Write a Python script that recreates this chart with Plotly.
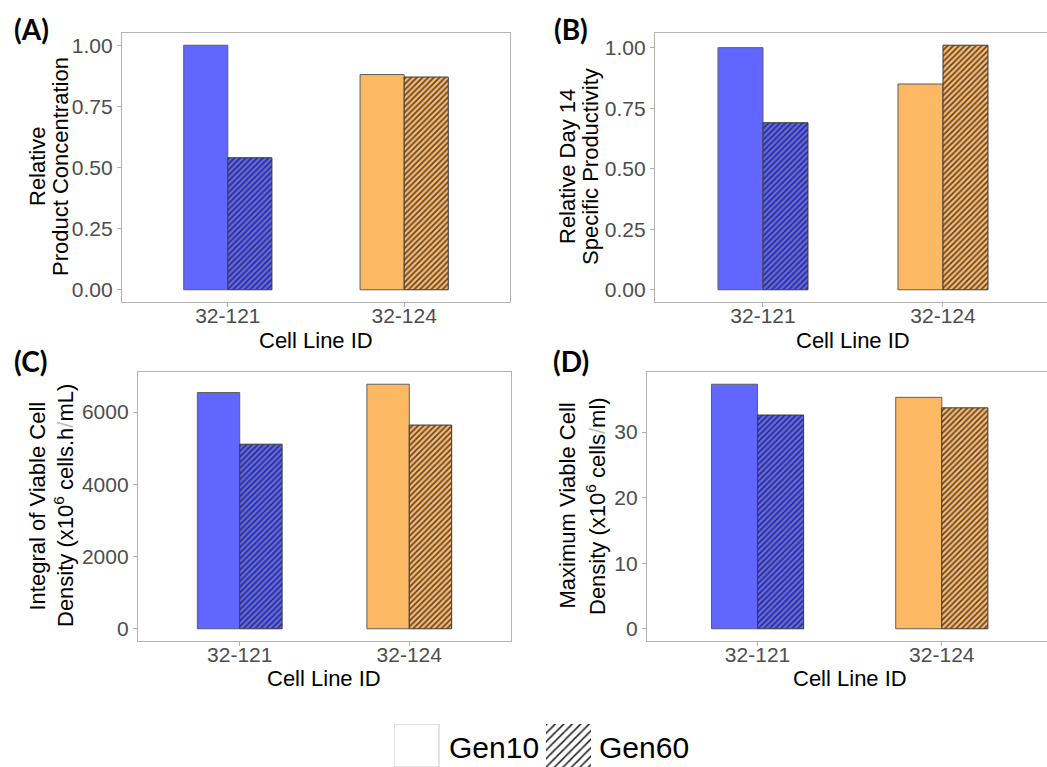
import plotly.graph_objects as go

# ---- data ----
cell_lines = ["32-121", "32-124"]
line_colors = ["#6066FF", "#FDB863"]

conc_gen10 = [1.00, 0.88]
conc_gen60 = [0.54, 0.87]

qp_gen10 = [1.00, 0.85]
qp_gen60 = [0.69, 1.01]

ivcd_gen10 = [6540, 6770]
ivcd_gen60 = [5110, 5640]

vcd_gen10 = [37.3, 35.3]
vcd_gen60 = [32.6, 33.7]

legend_labels = ["Gen10", "Gen60"]

W, H = 1047, 767
FONT = "Liberation Sans, Arial, sans-serif"
FRAME = "#B3B3B3"
HATCH = "#1A1A2A"


def fx(px):
    return px / W


def fy(py):
    return 1 - py / H


fig = go.Figure()

panels = [
    dict(g10=conc_gen10, g60=conc_gen60, xd=(122, 510), yd=(33, 302), xr=1.6,
         tv=[0, 0.25, 0.5, 0.75, 1.0], tf=".2f", mirror=True),
    dict(g10=qp_gen10, g60=qp_gen60, xd=(655, 1047), yd=(33, 302), xr=1.578,
         tv=[0, 0.25, 0.5, 0.75, 1.0], tf=".2f", mirror=False),
    dict(g10=ivcd_gen10, g60=ivcd_gen60, xd=(138, 511), yd=(372, 641), xr=1.6,
         tv=[0, 2000, 4000, 6000], tf="d", mirror=True),
    dict(g10=vcd_gen10, g60=vcd_gen60, xd=(647, 1047), yd=(372, 641), xr=1.571,
         tv=[0, 10, 20, 30], tf="d", mirror=False),
]

for i, p in enumerate(panels, start=1):
    xa = "x" if i == 1 else f"x{i}"
    ya = "y" if i == 1 else f"y{i}"
    fig.add_trace(go.Bar(
        x=cell_lines, y=p["g10"], xaxis=xa, yaxis=ya, name="Gen10",
        marker=dict(color=line_colors, line=dict(color="#5F5F5F", width=1)),
        showlegend=False, hoverinfo="x+y",
    ))
    # hatched bars: fill colour comes from the pattern background per bar
    fig.add_trace(go.Bar(
        x=cell_lines, y=p["g60"], xaxis=xa, yaxis=ya, name="Gen60",
        marker=dict(
            color="#808080",
            line=dict(color="#3A3A3A", width=1),
            pattern=dict(shape="/", fillmode="replace", bgcolor=line_colors,
                         fgcolor=HATCH, fgopacity=0.75, size=4, solidity=0.4),
        ),
        showlegend=False, hoverinfo="x+y",
    ))
    ymax = max(p["g10"] + p["g60"])
    xkey = "xaxis" if i == 1 else f"xaxis{i}"
    ykey = "yaxis" if i == 1 else f"yaxis{i}"
    fig.layout[xkey] = dict(
        domain=[fx(p["xd"][0]), fx(p["xd"][1])], anchor=ya,
        range=[-0.6, p["xr"]], type="category",
        showline=True, mirror=True, linecolor=FRAME, linewidth=1.3,
        ticks="outside", ticklen=4, tickcolor=FRAME, tickwidth=1,
        ticklabelstandoff=-9,
        tickfont=dict(family=FONT, size=21, color="#4D4D4D"),
        showgrid=False, zeroline=False, fixedrange=True,
    )
    fig.layout[ykey] = dict(
        domain=[fy(p["yd"][1]), fy(p["yd"][0])], anchor=xa,
        range=[-0.05 * ymax, 1.05 * ymax],
        tickvals=p["tv"], tickformat=p["tf"],
        showline=True, mirror=p["mirror"], linecolor=FRAME, linewidth=1.3,
        ticks="outside", ticklen=4, tickcolor=FRAME, tickwidth=1,
        tickfont=dict(family=FONT, size=21, color="#4D4D4D"),
        showgrid=False, zeroline=False, fixedrange=True,
    )

# legend keys drawn as bars on a hidden axis along the bottom edge
fig.add_trace(go.Bar(
    x=legend_labels, y=[1, 1], xaxis="x5", yaxis="y5", width=0.296,
    marker=dict(
        color="white",
        line=dict(color=["#C8C8C8", "rgba(0,0,0,0)"], width=1),
        pattern=dict(shape=["", "/"], fillmode="replace", bgcolor="white",
                     fgcolor="#000000", fgopacity=0.9, size=6, solidity=0.25),
    ),
    showlegend=False, hoverinfo="skip",
))
fig.update_layout(
    xaxis5=dict(domain=[fx(394), fx(591)], anchor="y5", range=[-0.148, 1.148],
                visible=False, fixedrange=True),
    yaxis5=dict(domain=[0, fy(724)], anchor="x5", range=[0, 1],
                visible=False, fixedrange=True),
)

annotations = []


def text(x, y, s, size=22, angle=0, color="black", family=FONT, xanchor="center", bold=False):
    annotations.append(dict(
        x=fx(x), y=fy(y), xref="paper", yref="paper", text=f"<b>{s}</b>" if bold else s,
        showarrow=False, textangle=angle, xanchor=xanchor, yanchor="middle",
        font=dict(family=family, size=size, color=color),
    ))


# panel letters
for lab, x, y in [("(A)", 31, 29), ("(B)", 571, 29), ("(C)", 30, 361), ("(D)", 571, 361)]:
    text(x, y, lab, size=28, family="Lato, Open Sans, sans-serif", bold=True)

# x-axis titles
for x, y in [(316, 340), (853, 340), (324, 678), (850, 678)]:
    text(x, y, "Cell Line ID")

# y-axis titles (two lines each)
slash = '<span style="color:#BBBBBB">/</span>'
text(37, 167, "Relative", angle=-90)
text(60, 167, "Product Concentration", angle=-90)
text(567, 167, "Relative Day 14", angle=-90)
text(590, 167, "Specific Productivity", angle=-90)
text(36.5, 506, "Integral of Viable Cell", angle=-90)
text(64, 506, f"Density (x10<sup>6</sup> cells.h{slash}mL)", angle=-90)
text(566.5, 506, "Maximum Viable Cell", angle=-90)
text(596, 506, f"Density (x10<sup>6</sup> cells{slash}ml)", angle=-90)

# legend text
text(447, 747, "Gen10", size=30, xanchor="left")
text(597, 747, "Gen60", size=30, xanchor="left")

fig.update_layout(
    width=W, height=H,
    margin=dict(l=0, r=0, t=0, b=0),
    paper_bgcolor="white", plot_bgcolor="white",
    barmode="group", bargap=0.5, bargroupgap=0,
    annotations=annotations,
    showlegend=False,
)

fig.write_html("out.html", config={"displayModeBar": False})
